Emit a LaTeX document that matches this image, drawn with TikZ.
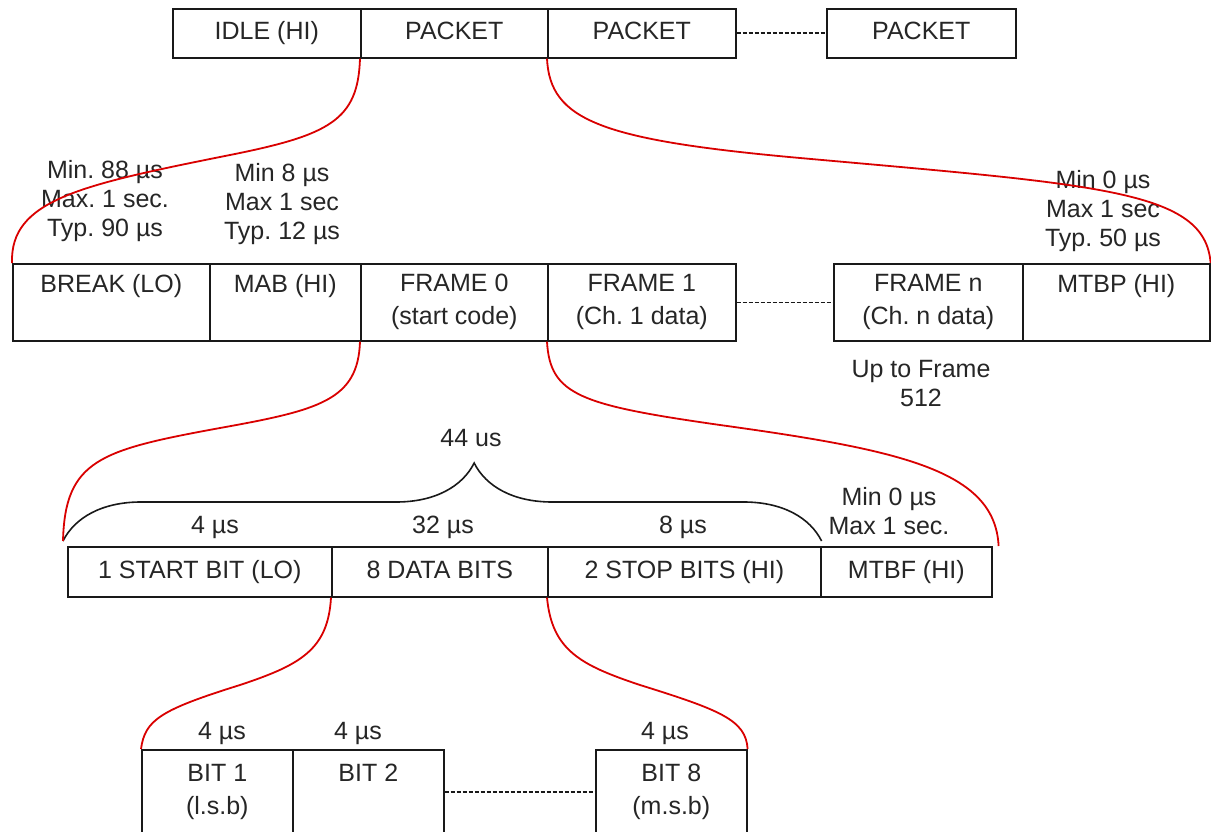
\documentclass[tikz,border=0pt]{standalone}
\usepackage{fontspec}
\setmainfont{Liberation Sans}
\frenchspacing
\usetikzlibrary{decorations.pathreplacing}
\tikzset{
  cell/.style={draw=black!90, line width=1.6pt, anchor=north west, inner sep=0pt, align=center,
    text=black!85, font=\fontsize{25}{33}\selectfont},
  oneline/.style={text height=18pt, text depth=5pt},
  note/.style={align=center, inner sep=0pt, text=black!85, font=\fontsize{25}{29}\selectfont},
  link/.style={draw=red!85!black, line width=1.8pt},
  gap/.style={draw=black!90, dash pattern=on 4pt off 2pt, line width=1.6pt},
}
\begin{document}
\begin{tikzpicture}[x=1pt, y=-1pt]
    \clip (0,0) rectangle (1211,832);
    \fill[white] (0,0) rectangle (1211,832);

    % Top row: idle and packets
    \node[cell, oneline, minimum width=188pt, minimum height=49pt] (idle) at (172,8) {IDLE (HI)};
    \node[cell, oneline, minimum width=187pt, minimum height=49pt] (pkA) at (360,8) {PACKET};
    \node[cell, oneline, minimum width=188pt, minimum height=49pt] (pkB) at (547,8) {PACKET};
    \node[cell, oneline, minimum width=189pt, minimum height=49pt] (pkN) at (826,8) {PACKET};
    \draw[gap] (pkB.east) -- (pkN.west);

    % Packet: break, mab and frames
    \node[cell, minimum width=197pt, minimum height=77pt] (brk) at (12,263) {BREAK (LO)\\\vphantom{(}};
    \node[cell, minimum width=151pt, minimum height=77pt] (mab) at (209,263) {MAB (HI)\\\vphantom{(}};
    \node[cell, minimum width=187pt, minimum height=77pt] (frz) at (360,263) {FRAME 0\\(start code)};
    \node[cell, minimum width=188pt, minimum height=77pt] (fro) at (547,263) {FRAME 1\\(Ch. 1 data)};
    \node[cell, minimum width=189pt, minimum height=77pt] (frn) at (833,263) {FRAME n\\(Ch. n data)};
    \node[cell, minimum width=187pt, minimum height=77pt] (mtbp) at (1022,263) {MTBP (HI)\\\vphantom{(}};
    \draw[gap] (fro.east) -- (frn.west);

    \node[note] (brkinfo) at (105,201) {Min. 88 µs\\Max. 1 sec.\\Typ. 90 µs};
    \node[note] (mabinfo) at (282,204) {Min 8 µs\\Max 1 sec\\Typ. 12 µs};
    \node[note] (mtbpinfo) at (1103,211) {Min 0 µs\\Max 1 sec\\Typ. 50 µs};
    \node[note] (upto) at (921,384) {Up to Frame\\512};

    % Frame: start, data and stop bits
    \node[cell, oneline, minimum width=264pt, minimum height=50pt] (sb) at (67,546) {1 START BIT (LO)};
    \node[cell, oneline, minimum width=216pt, minimum height=50pt] (db) at (331,546) {8 DATA BITS};
    \node[cell, oneline, minimum width=273pt, minimum height=50pt] (stb) at (547,546) {2 STOP BITS (HI)};
    \node[cell, oneline, minimum width=171pt, minimum height=50pt] (mtbf) at (820,546) {MTBF (HI)};

    \node[note] (sbtime) at (215,527) {4 µs};
    \node[note] (dbtime) at (443,527) {32 µs};
    \node[note] (stbtime) at (683,527) {8 µs};
    \node[note] (mtbfinfo) at (889,511) {Min 0 µs\\Max 1 sec.};
    \node[note] (total) at (471,438) {44 us};
    \draw[black!90, line width=1.6pt, decorate, decoration={brace, amplitude=78pt, aspect=0.542}]
        ([xshift=-4pt, yshift=5pt]sb.north west) -- ([yshift=5pt]stb.north east);

    % Data bits
    \node[cell, minimum width=151pt, minimum height=84pt] (b1) at (141,749) {BIT 1\\(l.s.b)};
    \node[cell, minimum width=151pt, minimum height=84pt] (b2) at (292,749) {BIT 2\\\vphantom{(}};
    \node[cell, minimum width=151pt, minimum height=84pt] (b8) at (595,749) {BIT 8\\(m.s.b)};
    \draw[gap] (b2.east) -- (b8.west);

    \node[note] (b1time) at (222,733) {4 µs};
    \node[note] (b2time) at (358,733) {4 µs};
    \node[note] (b8time) at (665,733) {4 µs};

    % Zoom curves
    \draw[link] (pkA.south west) .. controls (358,120) and (330,135) .. (230,155)
        .. controls (80,185) and (10,200) .. (brk.north west);
    \draw[link] (pkB.south west) .. controls (550,120) and (600,140) .. (800,158)
        .. controls (1100,185) and (1205,190) .. (mtbp.north east);
    \draw[link] (frz.south west) .. controls (358,400) and (320,410) .. (220,428)
        .. controls (100,450) and (65,460) .. ([xshift=-4pt, yshift=5pt]sb.north west);
    \draw[link] (fro.south west) .. controls (550,395) and (580,405) .. (720,425)
        .. controls (900,450) and (995,470) .. ([xshift=6pt]mtbf.north east);
    \draw[link] (db.south west) .. controls (328,650) and (300,665) .. (240,685)
        .. controls (160,710) and (145,720) .. (b1.north west);
    \draw[link] (stb.south west) .. controls (552,650) and (580,665) .. (640,685)
        .. controls (720,710) and (746,720) .. (b8.north east);
\end{tikzpicture}
\end{document}
